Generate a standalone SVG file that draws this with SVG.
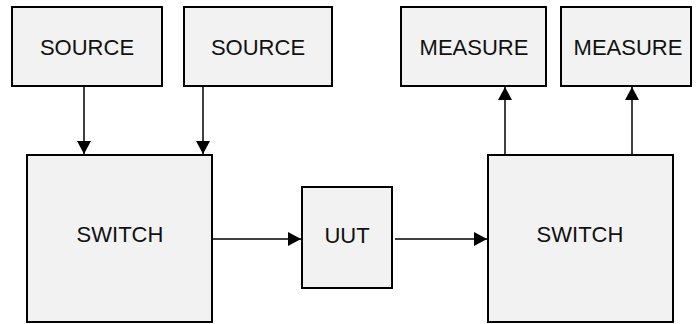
<svg xmlns="http://www.w3.org/2000/svg" width="696" height="324" viewBox="0 0 696 324">
  <style>
    .box { fill: #f2f2f2; stroke: #000; stroke-width: 2; }
    .lbl { font-family: "Liberation Sans", Arial, sans-serif; font-size: 22px; fill: #111; text-anchor: middle; }
    .wire { stroke: #000; stroke-width: 1.5; fill: none; marker-end: url(#head); }
  </style>
  <defs>
    <marker id="head" markerWidth="15" markerHeight="14" refX="13" refY="7" orient="auto" markerUnits="userSpaceOnUse">
      <path d="M0,0 L13,7 L0,14 Z" fill="#000"/>
    </marker>
  </defs>

  <g id="source1">
    <rect class="box" x="12" y="7" width="150" height="79"/>
    <text class="lbl" x="87" y="55">SOURCE</text>
  </g>
  <g id="source2">
    <rect class="box" x="184" y="7" width="148" height="79"/>
    <text class="lbl" x="258" y="55">SOURCE</text>
  </g>
  <g id="measure1">
    <rect class="box" x="401" y="7" width="145" height="79"/>
    <text class="lbl" x="474" y="55">MEASURE</text>
  </g>
  <g id="measure2">
    <rect class="box" x="561" y="7" width="130" height="79"/>
    <text class="lbl" x="628" y="55">MEASURE</text>
  </g>
  <g id="switch1">
    <rect class="box" x="27" y="155" width="185" height="167"/>
    <text class="lbl" x="120" y="242">SWITCH</text>
  </g>
  <g id="uut">
    <rect class="box" x="302" y="187" width="90" height="101"/>
    <text class="lbl" x="347" y="243">UUT</text>
  </g>
  <g id="switch2">
    <rect class="box" x="488" y="155" width="185" height="167"/>
    <text class="lbl" x="580" y="242">SWITCH</text>
  </g>

  <g id="connectors">
    <line class="wire" x1="84" y1="87" x2="84" y2="154"/>
    <line class="wire" x1="203" y1="87" x2="203" y2="154"/>
    <line class="wire" x1="213" y1="239" x2="301" y2="239"/>
    <line class="wire" x1="395" y1="239" x2="487" y2="239"/>
    <line class="wire" x1="505" y1="154" x2="505" y2="87"/>
    <line class="wire" x1="632" y1="154" x2="632" y2="87"/>
  </g>
</svg>
